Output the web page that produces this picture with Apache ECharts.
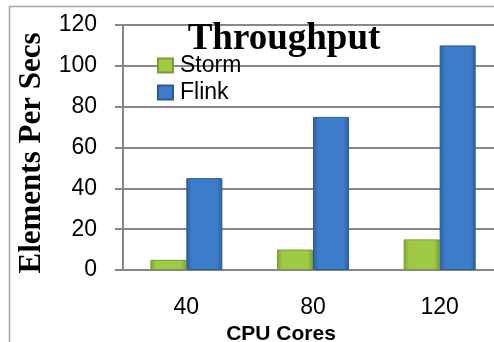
<!DOCTYPE html>
<html><head><meta charset="utf-8">
<script src="https://cdn.jsdelivr.net/npm/echarts@6/dist/echarts.min.js"></script>
<style>html,body{margin:0;padding:0;background:#fff}#c{width:494px;height:342px}</style>
</head><body><div id="c"></div>
<script>
var categories = ['40', '80', '120'];
var stormValues = [5, 10, 15];
var flinkValues = [45, 75, 110];
var yTicks = [0, 20, 40, 60, 80, 100, 120];

function bevel(edge, mid) {
  return new echarts.graphic.LinearGradient(0, 0, 1, 0, [
    {offset: 0, color: edge}, {offset: 0.15, color: mid}, {offset: 0.85, color: mid}, {offset: 1, color: edge}
  ]);
}
var chart = echarts.init(document.getElementById('c'), null, {renderer: 'canvas'});
chart.setOption({
  animation: false,
  backgroundColor: '#fff',
  legend: {
    orient: 'vertical', left: 157, top: 54, padding: 0, itemWidth: 15, itemHeight: 14, itemGap: 4,
    icon: 'rect',
    textStyle: {fontFamily: 'Liberation Sans', fontSize: 23, color: '#000', padding: [0, 0, 0, 2]},
    data: ['Storm', 'Flink']
  },
  graphic: [{
    type: 'rect', silent: true, z: 0,
    shape: {x: 9.5, y: 6.5, width: 700, height: 700},
    style: {fill: 'none', stroke: '#a6a6a6', lineWidth: 1.5}
  }, {
    type: 'text', silent: true, z: 10, x: 284, y: 21,
    style: {text: 'Throughput', fontFamily: 'Liberation Serif', fontWeight: 'bold', fontSize: 37,
      fill: '#000', align: 'center', verticalAlign: 'top'}
  }],
  grid: {left: 123, top: 25, right: -9, bottom: 72, outerBoundsMode: 'none', containLabel: false},
  xAxis: {
    type: 'category', data: categories,
    name: 'CPU Cores', nameLocation: 'middle', nameGap: 41,
    nameTextStyle: {fontFamily: 'Liberation Sans', fontWeight: 'bold', fontSize: 21, color: '#000', padding: [0, 64, 0, 0]},
    axisLine: {lineStyle: {color: '#878787', width: 2}},
    axisTick: {length: 9, lineStyle: {color: '#878787', width: 2}},
    axisLabel: {margin: 26, fontFamily: 'Liberation Sans', fontSize: 23, color: '#000'}
  },
  yAxis: {
    type: 'value', min: 0, max: 120, interval: 20,
    name: 'Elements Per Secs', nameLocation: 'middle', nameGap: 76,
    nameTextStyle: {fontFamily: 'Liberation Serif', fontWeight: 'bold', fontSize: 31, color: '#000', padding: [0, 11, 0, 0]},
    axisLine: {show: true, lineStyle: {color: '#878787', width: 2}},
    axisTick: {show: true, length: 8, lineStyle: {color: '#878787', width: 2}},
    splitLine: {lineStyle: {color: '#878787', width: 2}},
    axisLabel: {margin: 26, fontFamily: 'Liberation Sans', fontSize: 23, color: '#000',
      formatter: function (v) { return yTicks.indexOf(v) >= 0 ? String(v) : ''; }}
  },
  series: [{
    name: 'Storm', type: 'bar', data: stormValues, barWidth: 36, barGap: '0%',
    itemStyle: {color: bevel('#7ea330', '#9fca45'), borderColor: '#7a9a35', borderWidth: 1}
  }, {
    name: 'Flink', type: 'bar', data: flinkValues, barWidth: 36, barGap: '0%',
    itemStyle: {color: bevel('#2d5f9e', '#3d7cc8'), borderColor: '#2b5a94', borderWidth: 1}
  }]
});
</script></body></html>
